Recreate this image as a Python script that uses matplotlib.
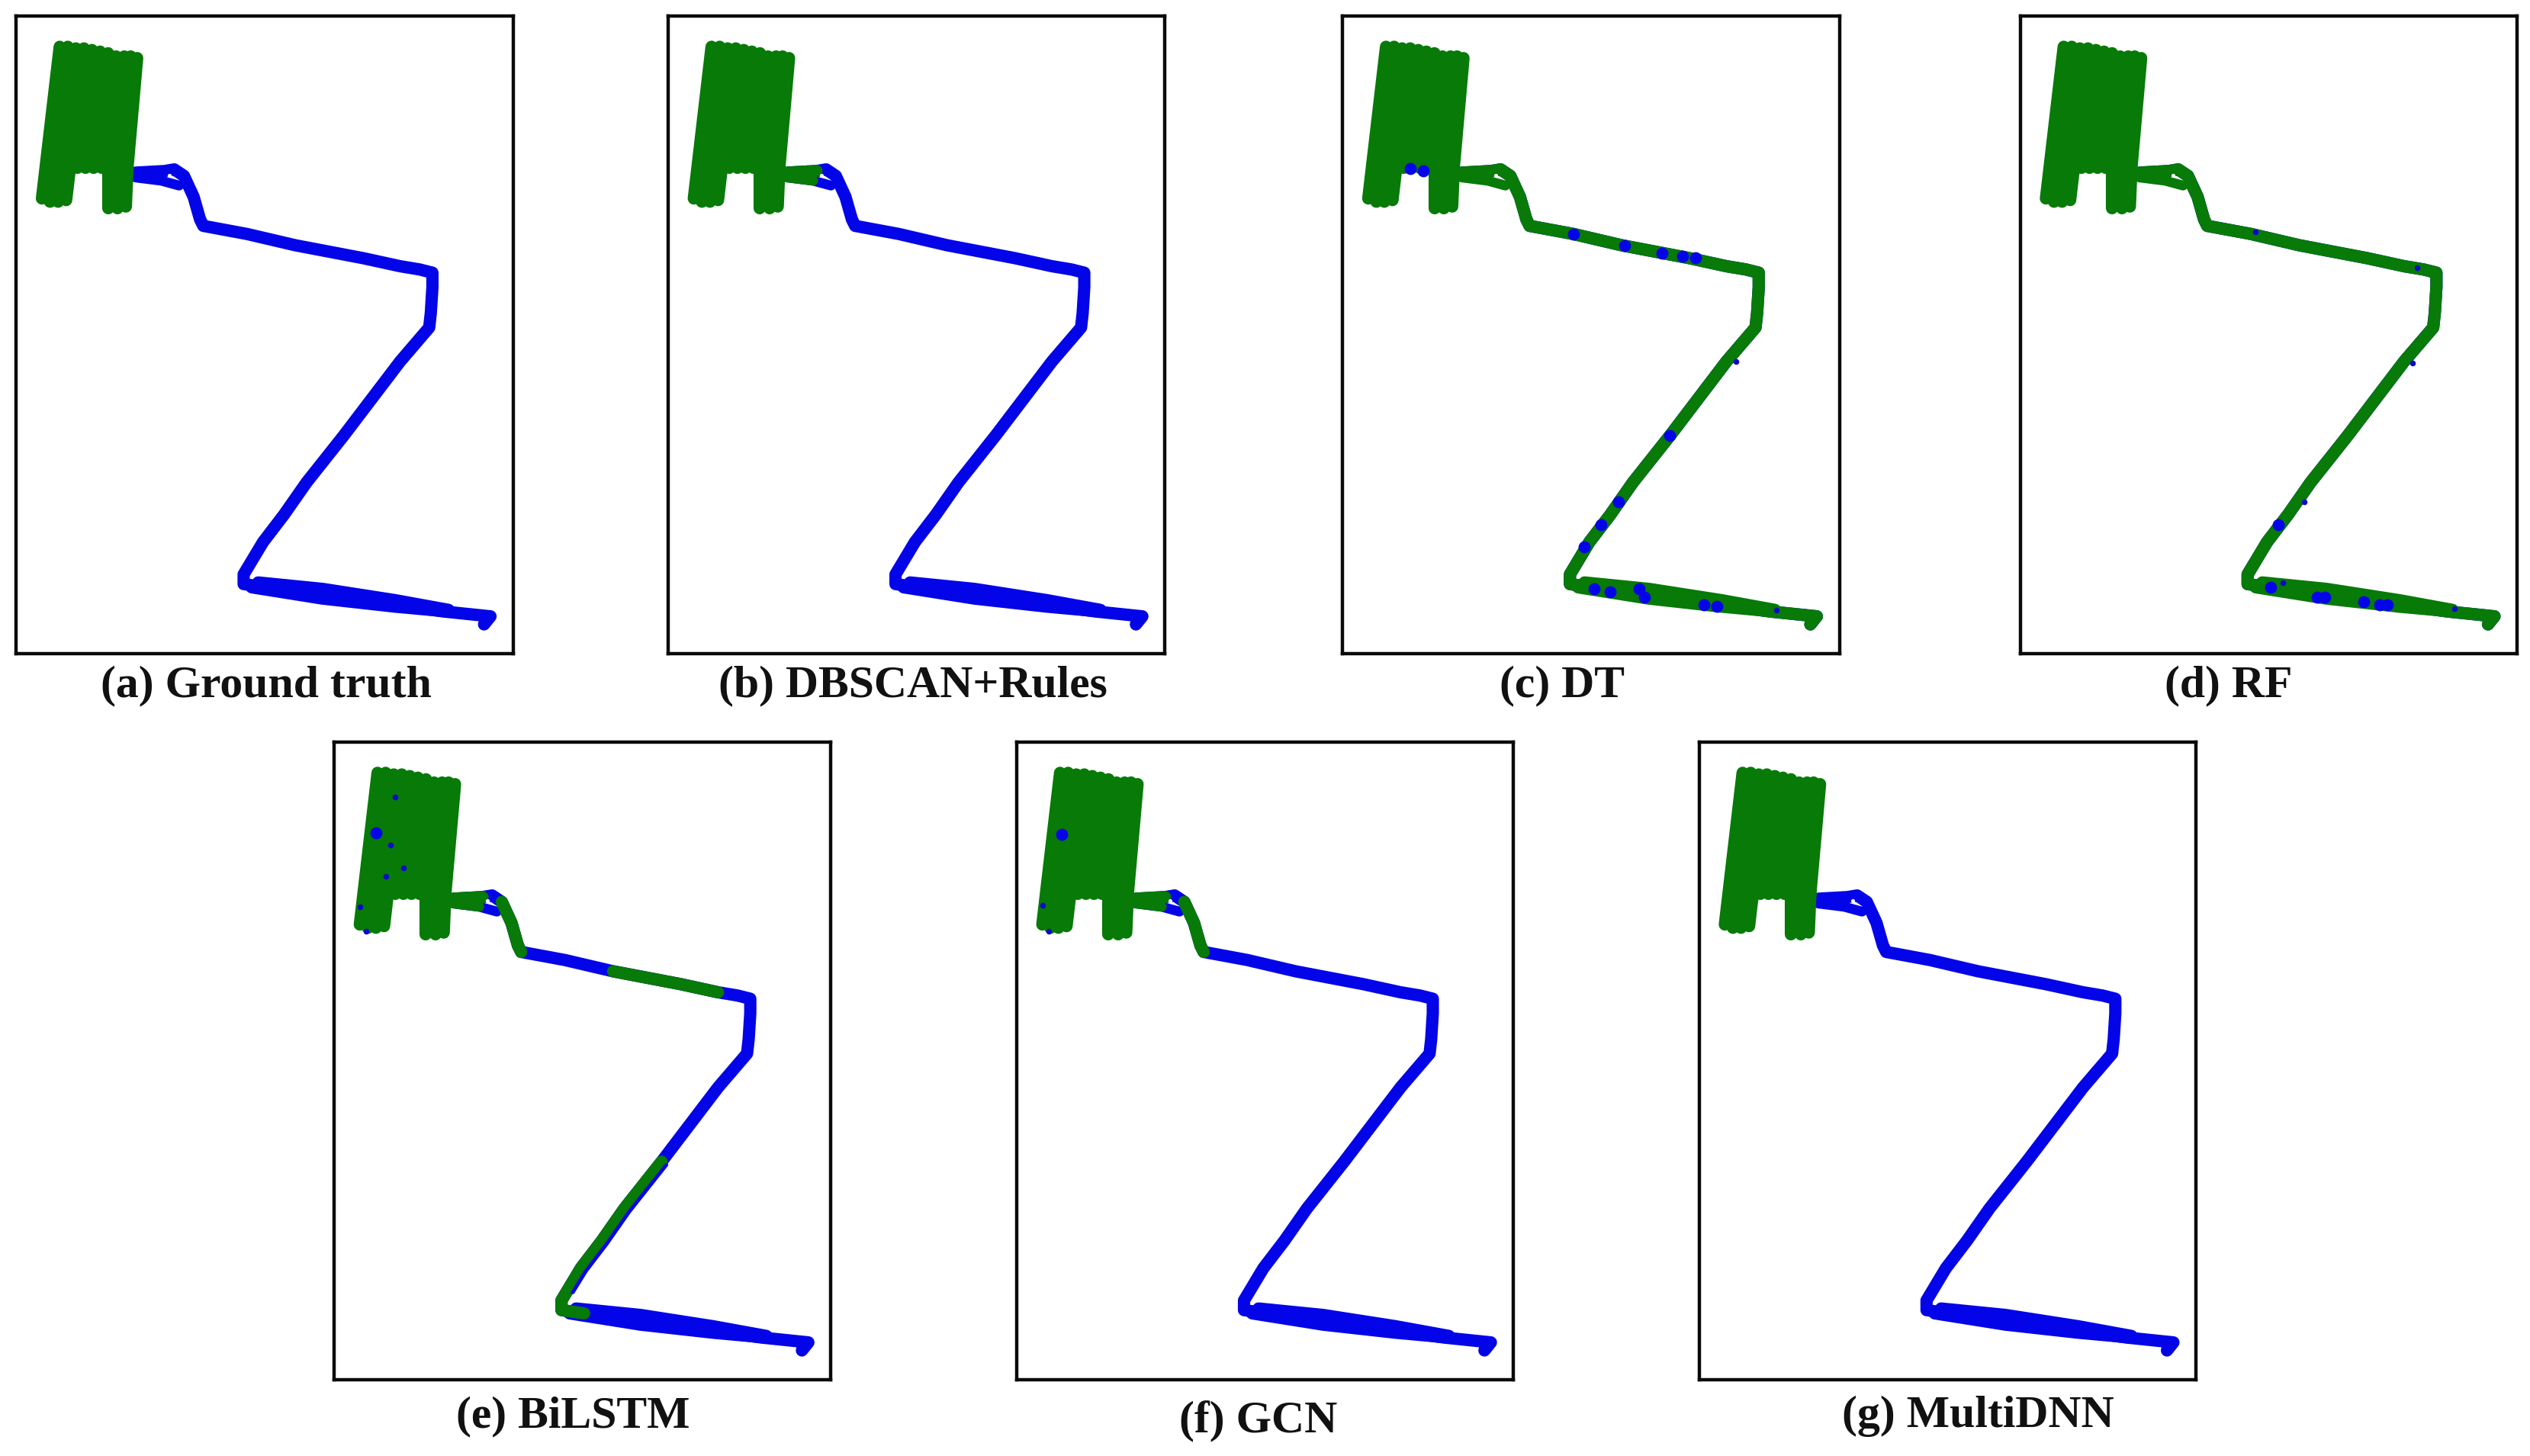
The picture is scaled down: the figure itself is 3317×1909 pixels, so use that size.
import matplotlib
matplotlib.use("Agg")
import matplotlib.pyplot as plt

# couleurs et taille de la figure
GREEN = '#077a07'
BLUE = '#0404e8'
W, H = 3317, 1909
SCALE = 3317 / 1568  # relevés faits sur l'image réduite

# route principale (x, y relatifs au cadre)
road_x = [74, 92, 98, 104, 110, 114, 116, 143, 173, 215, 238, 250, 258, 258, 257, 256, 250, 238, 203, 180, 166, 153, 141, 141, 155, 202, 265, 294, 290]
road_y = [97, 96, 95, 99, 112, 126, 130, 135, 142, 150, 155, 157, 159, 168, 184, 193, 200, 214, 260, 289, 309, 326, 346, 352, 354, 360, 369, 372, 377]

# second passage (boucle près du champ, tronçon bas)
loop_x = [74, 90, 101]
loop_y = [100, 102, 105]
lower_x = [150, 190, 235, 268]
lower_y = [351, 355, 362, 368]
lower2_x = [146, 190, 235, 268]
lower2_y = [354, 361, 366, 369]
hole_x = [95]
hole_y = [98.5]

# passages dans le champ
field_x0 = [27, 32, 37, 42, 47, 52, 57, 62, 67, 71, 75]
field_y0 = [19, 19, 20, 20, 21, 22, 23, 25, 25, 25, 26]
field_x1 = [16, 21, 26, 31, 38, 43, 48, 53, 60, 65, 69]
field_y1 = [113, 115, 115, 114, 94, 94, 94, 94, 94, 94, 94]
leg_x0 = [57, 63, 69]
leg_x1 = [57, 63, 68]
leg_y0 = [94, 94, 94]
leg_y1 = [119, 119, 118]

# (début, fin) des tronçons verts dans road_x pour chaque modèle
green_a = []
green_b = [(0, 1)]
green_c = [(0, 28)]
green_d = [(0, 28)]
green_e = [(0, 1), (3, 6), (8, 10), (18, 24)]
green_f = [(0, 1), (3, 6)]
green_g = []
# 0 = boucle bleue, 1 = début vert, 2 = toute verte
loop_state = [0, 1, 2, 2, 1, 1, 0]

# bord bleu le long du tronçon vert de (e)
side_e_x = [206, 183, 169, 156, 148]
side_e_y = [262, 291, 311, 328, 341]

# points bleus isolés
dots_c_x = [143, 175, 198, 211, 219, 203, 171, 160, 150, 156, 166, 184, 187, 224, 232, 42, 50]
dots_c_y = [135, 142, 147, 149, 150, 260, 301, 315, 329, 355, 357, 355, 360, 365, 366, 94.5, 96]
small_c_x = [244, 269]
small_c_y = [214, 368]
dots_d_x = [160, 155.5, 184, 189, 213, 223, 227.5]
dots_d_y = [315, 354, 360, 360, 363, 365, 365]
small_d_x = [146, 246, 243, 176, 163, 269]
small_d_y = [133.5, 156, 215, 301, 351, 367]
dots_e_x = [26]
dots_e_y = [56]
small_e_x = [16, 20, 38, 35, 32, 43]
small_e_y = [102, 117, 34, 64, 83, 78]
dots_f_x = [28]
dots_f_y = [57]
small_f_x = [16, 20]
small_f_y = [101, 117]

captions = ['(a) Ground truth', '(b) DBSCAN+Rules', '(c) DT', '(d) RF', '(e) BiLSTM', '(f) GCN', '(g) MultiDNN']
frame_left = [10, 414, 832, 1252, 207, 630, 1053]
frame_top = [10, 10, 10, 10, 460, 460, 460]
caption_x = [165, 566, 968, 1381, 355, 780, 1226]
caption_y = [425, 425, 425, 425, 878, 881, 878]
spans = [green_a, green_b, green_c, green_d, green_e, green_f, green_g]
dots = [([], []), ([], []), (dots_c_x, dots_c_y), (dots_d_x, dots_d_y),
        (dots_e_x, dots_e_y), (dots_f_x, dots_f_y), ([], [])]
small = [([], []), ([], []), (small_c_x, small_c_y), (small_d_x, small_d_y),
         (small_e_x, small_e_y), (small_f_x, small_f_y), ([], [])]

LW = 11.6

fig = plt.figure(figsize=(W / 100, H / 100), dpi=100, facecolor='white')

for i in range(7):
    left = frame_left[i] * SCALE / W
    bottom = 1 - (frame_top[i] + 395) * SCALE / H
    ax = fig.add_axes([left, bottom, 308 * SCALE / W, 395 * SCALE / H])
    ax.set_xlim(0, 308)
    ax.set_ylim(395, 0)
    ax.set_xticks([])
    ax.set_yticks([])
    for s in ax.spines.values():
        s.set_linewidth(3.2)
        s.set_color('#0a0a0a')

    # route en bleu, puis les tronçons verts par dessus
    all_green = i in (2, 3)
    road_col = GREEN if all_green else BLUE
    ax.plot(road_x, road_y, color=BLUE, lw=LW, solid_capstyle='round', solid_joinstyle='round')
    ax.plot(lower_x, lower_y, color=road_col, lw=LW, solid_capstyle='round')
    ax.plot(lower2_x, lower2_y, color=road_col, lw=LW, solid_capstyle='round')
    ax.plot(loop_x, loop_y, color=GREEN if loop_state[i] == 2 else BLUE, lw=LW * 0.8, solid_capstyle='round')
    if loop_state[i] == 1:
        ax.plot(loop_x[:2], loop_y[:2], color=GREEN, lw=LW * 0.8, solid_capstyle='round')
    for a, b in spans[i]:
        ax.plot(road_x[a:b + 1], road_y[a:b + 1], color=GREEN, lw=LW, solid_capstyle='round', solid_joinstyle='round')
    if i == 4:
        ax.plot(side_e_x, side_e_y, color=BLUE, lw=3.5, solid_capstyle='round')
    ax.scatter(hole_x, hole_y, s=14, color='white', linewidths=0, zorder=3)

    # le champ
    for x0, y0, x1, y1 in zip(field_x0, field_y0, field_x1, field_y1):
        ax.plot([x0, x1], [y0, y1], color=GREEN, lw=LW, solid_capstyle='round')
    for x0, y0, x1, y1 in zip(leg_x0, leg_y0, leg_x1, leg_y1):
        ax.plot([x0, x1], [y0, y1], color=GREEN, lw=LW, solid_capstyle='round')

    ax.scatter(dots[i][0], dots[i][1], s=130, color=BLUE, linewidths=0, zorder=5)
    ax.scatter(small[i][0], small[i][1], s=30, color='#0a0ac8', linewidths=0, zorder=5)

    fig.text(caption_x[i] * SCALE / W, 1 - caption_y[i] * SCALE / H, captions[i],
             family='Liberation Serif', weight='bold', fontsize=43, ha='center', va='center', color='#111111')

fig.savefig('out.png', dpi=100, facecolor='white')
